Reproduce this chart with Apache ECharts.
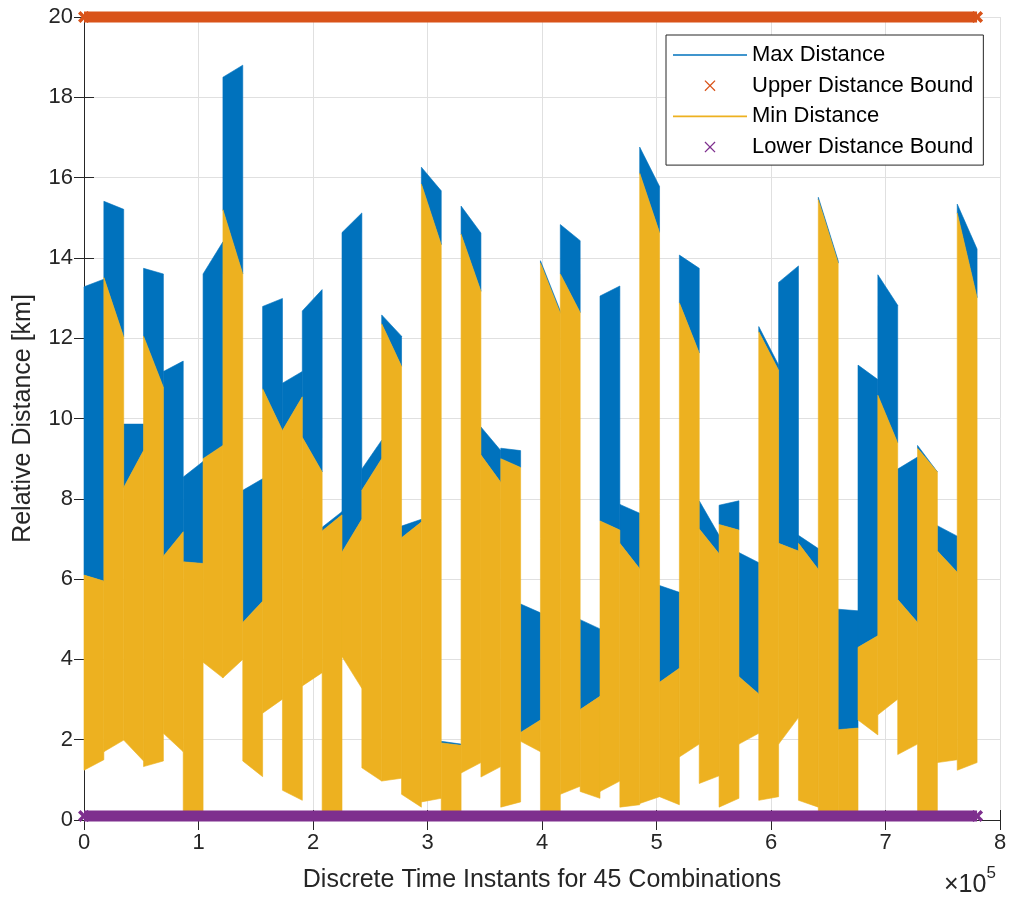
<!DOCTYPE html>
<html><head><meta charset="utf-8">
<script src="https://cdn.jsdelivr.net/npm/echarts@6/dist/echarts.min.js"></script>
<style>html,body{margin:0;padding:0;background:#fff}#c{width:1011px;height:900px}</style>
</head><body><div id="c"></div>
<script>
// ---- data ----
const combos = 45;
const instantsPerCombo = 17333;          // 45 combinations -> ~7.8e5 instants
const xTickLabels = ['0','1','2','3','4','5','6','7','8'];
const yTickStep = 2;
// Max distance envelope (top) at start / end of each combination [km]
const maxTopStart = [13.28,15.41,9.86,13.74,11.17,8.54,13.6,18.5,8.21,12.79,10.88,12.68,7.29,14.63,8.74,12.58,7.32,16.26,1.96,15.29,9.79,9.26,5.38,13.93,14.83,4.99,13.05,7.86,16.76,5.84,14.07,7.95,7.84,6.66,12.29,13.39,7.09,15.51,5.25,11.33,13.58,8.74,9.33,7.33,15.34];
const maxTopEnd   = [13.47,15.21,9.86,13.6,11.43,8.93,14.4,18.8,8.5,12.99,11.17,13.21,7.68,15.12,9.46,12.05,7.49,15.67,1.89,14.62,9.2,9.2,5.16,12.68,14.43,4.76,13.3,7.64,15.78,5.67,13.74,7.09,7.95,6.41,11.33,13.8,6.76,13.93,5.21,10.97,12.82,9.04,8.67,7.07,14.22];
// Min distance envelope (top) at start / end of each combination [km]
const minTopStart = [6.1,13.51,8.28,12.05,6.57,6.43,9.0,15.2,4.92,10.74,9.7,9.53,7.2,6.67,8.21,12.36,7.03,15.84,1.92,14.59,9.09,9.0,2.18,13.87,13.6,2.75,7.45,6.89,16.11,3.43,12.88,7.25,7.36,3.57,12.16,6.89,6.89,15.45,2.25,4.3,10.58,5.49,9.26,6.7,15.12];
const minTopEnd   = [5.95,12.03,9.2,10.78,7.18,6.39,9.33,13.6,5.45,9.7,10.54,8.67,7.6,7.49,9.0,11.3,7.42,14.33,1.86,13.17,8.41,8.78,2.49,12.62,12.64,3.08,7.22,6.26,14.63,3.78,11.63,6.63,7.22,3.14,11.2,6.7,6.24,13.87,2.29,4.59,9.39,4.92,8.67,6.17,13.01];
// Min distance envelope (bottom) at start / end of each combination [km]
const minBotStart = [1.24,1.7,1.99,1.33,2.16,0.15,3.93,3.54,1.47,2.66,0.74,3.34,0.15,4.07,1.3,0.97,0.64,0.45,0.15,1.17,1.07,0.32,1.96,0.15,0.64,0.71,0.71,0.32,0.41,0.58,1.57,0.91,0.32,1.89,0.49,1.89,0.49,0.15,0.15,2.49,2.62,1.63,0.15,1.43,1.24];
const minBotEnd   = [1.5,1.99,1.47,1.47,1.7,0.15,3.54,4.0,1.08,3.01,0.49,3.67,0.15,3.28,0.97,1.04,0.32,0.54,0.15,1.43,1.33,0.45,1.7,0.15,0.84,0.54,0.97,0.38,0.58,0.38,1.89,1.1,0.54,2.16,0.58,2.55,0.32,0.15,0.15,2.12,3.01,1.89,0.15,1.5,1.43];
const upperBound = 20;
const lowerBound = 0.1;

const C_BLUE = '#0072BD', C_YEL = '#EDB120', C_ORA = '#D95319', C_PUR = '#7E2F8E';
const FONT = 'Liberation Sans, Arial, sans-serif';
const AX = '#262626';

const xEnd = combos * instantsPerCombo;
const segData = [];
for (let i = 0; i < combos; i++) {
  segData.push([i * instantsPerCombo, (i + 1) * instantsPerCombo,
    maxTopStart[i], maxTopEnd[i], minTopStart[i], minTopEnd[i], minBotStart[i], minBotEnd[i]]);
}
function band(hiA, hiB, loA, loB, color) {
  return function (params, api) {
    const x0 = api.value(0), x1 = api.value(1);
    const pts = [
      api.coord([x0, api.value(loA)]), api.coord([x1, api.value(loB)]),
      api.coord([x1, api.value(hiB)]), api.coord([x0, api.value(hiA)])
    ];
    return { type: 'polygon', shape: { points: pts }, style: { fill: color, stroke: color, lineWidth: 0.6 } };
  };
}
const crossPath = 'path://M0,1L1,0L6,5L11,0L12,1L7,6L12,11L11,12L6,7L1,12L0,11L5,6Z';
const thickCross = 'path://M0,2.5L2.5,0L6,3.5L9.5,0L12,2.5L8.5,6L12,9.5L9.5,12L6,8.5L2.5,12L0,9.5L3.5,6Z';
const linePath = 'path://M0,0H74V1.6H0Z';

const chart = echarts.init(document.getElementById('c'), null, { renderer: 'canvas' });
const axisCommon = {
  min: 0, axisLine: { show: true, lineStyle: { color: AX, width: 1 } },
  axisTick: { show: true, inside: true, length: 10, lineStyle: { color: AX } }
};
chart.setOption({
  animation: false,
  backgroundColor: '#fff',
  grid: { left: 84, right: 11, top: 17, bottom: 80, containLabel: false },
  xAxis: [
    Object.assign({}, axisCommon, {
      type: 'value', position: 'bottom', max: 800000, interval: 100000,
      axisLabel: { color: AX, fontSize: 22, fontFamily: FONT, margin: 12,
        formatter: v => xTickLabels[Math.round(v / 100000)] },
      splitLine: { show: true, lineStyle: { color: '#e0e0e0', width: 1 } },
      name: 'Discrete Time Instants for 45 Combinations', nameLocation: 'middle', nameGap: 48,
      nameTextStyle: { color: AX, fontSize: 25, fontFamily: FONT }
    }),
    Object.assign({}, axisCommon, {
      type: 'value', position: 'top', max: 800000, interval: 100000,
      axisLabel: { show: false }, splitLine: { show: false }
    })
  ],
  yAxis: [
    Object.assign({}, axisCommon, {
      type: 'value', position: 'left', max: 20, interval: yTickStep,
      axisLabel: { color: AX, fontSize: 22, fontFamily: FONT, margin: 11 },
      splitLine: { show: true, lineStyle: { color: '#e0e0e0', width: 1 } },
      name: 'Relative Distance [km]', nameLocation: 'middle', nameGap: 48, nameRotate: 90,
      nameTextStyle: { color: AX, fontSize: 25, fontFamily: FONT }
    }),
    Object.assign({}, axisCommon, {
      type: 'value', position: 'right', max: 20, interval: yTickStep,
      axisLabel: { show: false }, splitLine: { show: false }
    })
  ],
  legend: {
    orient: 'vertical', left: 666, top: 35,
    padding: [9, 10, 7, 7], itemGap: 8.7, itemWidth: 74, itemHeight: 11,
    backgroundColor: '#fff', borderColor: AX, borderWidth: 1,
    itemStyle: { borderWidth: 0 },
    textStyle: { fontSize: 22, fontFamily: FONT, color: '#000', lineHeight: 22 },
    data: [
      { name: 'Max Distance', icon: linePath },
      { name: 'Upper Distance Bound', icon: crossPath },
      { name: 'Min Distance', icon: linePath },
      { name: 'Lower Distance Bound', icon: crossPath }
    ]
  },
  graphic: [{
    type: 'text', left: 944, top: 865,
    style: {
      text: '{a|×10}{s|5}',
      rich: {
        a: { fontSize: 25, fontFamily: FONT, fill: AX, verticalAlign: 'bottom', padding: [8, 0, 0, 0] },
        s: { fontSize: 17, fontFamily: FONT, fill: AX, verticalAlign: 'top' }
      }
    }
  }],
  series: [
    { name: 'Max Distance', type: 'custom', data: segData, z: 2,
      itemStyle: { color: C_BLUE },
      encode: { x: [0, 1], y: [2, 3] },
      renderItem: band(2, 3, 4, 5, C_BLUE) },
    { name: 'Min Distance', type: 'custom', data: segData, z: 3,
      itemStyle: { color: C_YEL },
      encode: { x: [0, 1], y: [4, 5] },
      renderItem: band(4, 5, 6, 7, C_YEL) },
    { name: 'Upper Distance Bound', type: 'line', z: 5, clip: false,
      data: [[0, upperBound], [xEnd, upperBound]],
      symbol: thickCross, symbolSize: 12, showSymbol: true,
      itemStyle: { color: C_ORA, borderWidth: 0 },
      lineStyle: { color: C_ORA, width: 11, cap: 'butt' } },
    { name: 'Lower Distance Bound', type: 'line', z: 5, clip: false,
      data: [[0, lowerBound], [xEnd, lowerBound]],
      symbol: thickCross, symbolSize: 12, showSymbol: true,
      itemStyle: { color: C_PUR, borderWidth: 0 },
      lineStyle: { color: C_PUR, width: 11, cap: 'butt' } }
  ]
});
</script></body></html>
